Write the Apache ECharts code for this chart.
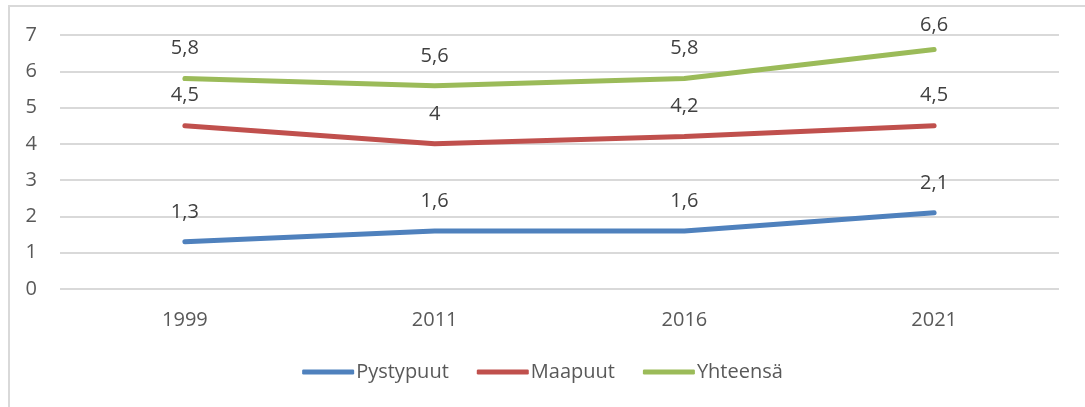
<!DOCTYPE html>
<html>
<head>
<meta charset="utf-8">
<script src="https://cdn.jsdelivr.net/npm/echarts@6/dist/echarts.min.js"></script>
<style>
  html, body { margin: 0; padding: 0; background: #fff; }
  #frame { position: absolute; left: 8px; top: 5px; width: 1090px; height: 410px; border: 2px solid #d9d9d9; box-sizing: border-box; }
  #chart { width: 1085px; height: 407px; position: absolute; left: 0; top: 0; }
</style>
</head>
<body>
<div id="frame"></div>
<div id="chart"></div>
<script>
const years = ["1999", "2011", "2016", "2021"];
const pystypuut = [1.3, 1.6, 1.6, 2.1];
const maapuut = [4.5, 4.0, 4.2, 4.5];
const yhteensa = [5.8, 5.6, 5.8, 6.6];

const font = "'Open Sans', sans-serif";

function fmt(p) {
  return String(p.value).replace(".", ",");
}

function lineSeries(name, data, color) {
  return {
    name: name,
    type: "line",
    // Excel pushes labels down when they would leave the plot area
    data: data.map((v) => (v > 6.3 ? { value: v, label: { distance: 14 } } : v)),
    symbol: "circle",
    symbolSize: 0,
    showSymbol: true,
    lineStyle: { width: 5, color: color, cap: "round" },
    itemStyle: { color: color },
    label: {
      show: true,
      position: "top",
      distance: 20,
      formatter: fmt,
      color: "#404040",
      fontSize: 20,
      fontFamily: font,
    },
  };
}

const chart = echarts.init(document.getElementById("chart"));
chart.setOption({
  animation: false,
  grid: { left: 60, right: 26, top: 35, bottom: 118 },
  legend: {
    bottom: 20,
    left: "center",
    itemWidth: 52,
    itemHeight: 5,
    itemGap: 28,
    icon: "roundRect",
    textStyle: { color: "#595959", fontSize: 20, fontFamily: font, padding: [0, 0, 0, -3] },
  },
  xAxis: {
    type: "category",
    data: years,
    axisLine: { show: false },
    axisTick: { show: false },
    axisLabel: { color: "#595959", fontSize: 20, fontFamily: font, margin: 21 },
  },
  yAxis: {
    type: "value",
    min: 0,
    max: 7,
    interval: 1,
    axisLabel: { color: "#595959", fontSize: 20, fontFamily: font, margin: 23 },
    splitLine: { lineStyle: { color: "#d9d9d9", width: 2 } },
  },
  series: [
    lineSeries("Pystypuut", pystypuut, "#4f81bd"),
    lineSeries("Maapuut", maapuut, "#c0504d"),
    lineSeries("Yhteensä", yhteensa, "#9bbb59"),
  ],
});
</script>
</body>
</html>
